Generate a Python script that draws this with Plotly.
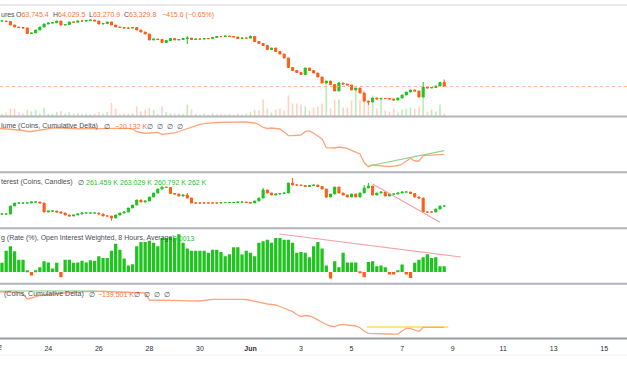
import pandas as pd
import plotly.graph_objects as go

# ---------------- data ----------------
start = pd.Timestamp("2024-05-22 00:00")
times = pd.date_range(start, periods=107, freq="4h")

price_close = [69880, 69880, 69830, 69480, 69280, 69230, 69180, 68630, 68680, 68980,
               69280, 69580, 69680, 69700, 69880, 69480, 69530, 69780, 69760, 69880,
               69870, 69930, 69980, 69880, 69580, 69630, 69780, 69480, 69280, 69230,
               69180, 69170, 69230, 68980, 68780, 68580, 67980, 68080, 68030, 67730,
               67930, 68130, 67980, 68030, 68130, 68180, 68030, 68080, 68070, 68130,
               68120, 68230, 68330, 68320, 68380, 68330, 68280, 68130, 68180, 68170,
               68330, 67830, 67630, 67430, 67030, 67180, 66830, 66580, 66180, 65230,
               64930, 64730, 64530, 65180, 64930, 64680, 64280, 63680, 63880, 63530,
               62880, 63680, 63580, 63480, 62980, 63180, 62680, 61880, 61780, 62180,
               62080, 62130, 62120, 62080, 61980, 62180, 62480, 62780, 62980, 62880,
               62280, 63280, 63180, 63230, 63380, 63745.4, 63329.8]
price_wick_hi = {45: 68380, 101: 63780, 106: 64029.5, 60: 68430, 81: 63780}
price_wick_lo = {45: 67580, 88: 61480, 106: 63270.9, 87: 61780, 8: 68580}

volume = [3, 2.7, 4, 7.7, 7.7, 4, 3, 6.7, 5, 6.7,
          3, 8.7, 2.7, 2.7, 4.3, 5.3, 2.7, 4.3, 3.3, 3.3,
          2.7, 2.7, 2, 2.7, 4.3, 2.7, 4.3, 13.7, 7.7, 2.7,
          3.3, 2.7, 3.3, 10, 5.3, 6.7, 8.7, 6.7, 2.7, 10,
          4.3, 3.3, 3.3, 2.7, 2.7, 12, 7.3, 2.7, 2, 3.3,
          2, 3.3, 2, 2.7, 2, 2.7, 2, 3.3, 2, 3.3,
          4.3, 6.7, 6, 17, 8, 4, 7, 8, 6, 21,
          13, 13, 12, 10, 6, 9, 10, 13, 34, 8,
          17, 17, 9, 9, 16, 28, 17, 26, 14, 21,
          8, 19, 6, 5, 8, 4, 7, 8, 9, 8,
          10, 19, 5, 7, 5, 12, 3]

cvd_perp = [-8.3, -8.5, -8.8, -9.0, -9.5, -10.0, -10.5, -11.5, -11.5, -10.7,
            -10.0, -9.3, -8.5, -8.2, -7.8, -7.8, -8.0, -8.3, -8.5, -8.8,
            -9.0, -8.5, -8.3, -8.6, -9.0, -8.7, -8.4, -8.3, -8.3, -8.3,
            -8.3, -8.3, -9.0, -11.7, -12.5, -13.3, -13.0, -12.5, -12.3, -14.3,
            -14.0, -13.5, -12.8, -11.5, -10.0, -8.5, -7.0, -5.5, -4.3, -3.7,
            -3.0, -2.8, -2.5, -2.3, -2.3, -2.3, -2.0, -1.8, -1.8, -2.0,
            -2.3, -3.0, -4.5, -7.5, -8.5, -8.0, -8.5, -9.0, -12.0, -15.7,
            -15.7, -15.7, -15.0, -11.5, -11.0, -13.3, -16.0, -19.0, -27.7, -28.2,
            -28.0, -27.0, -27.3, -28.3, -30.3, -32.3, -34.0, -42.5, -46.7, -45.0,
            -45.5, -46.2, -46.5, -46.7, -46.2, -45.5, -44.0, -41.0, -38.3, -41.0,
            -41.0, -35.7, -35.5, -35.3, -35.0, -34.7, -34.3]

oi_close = [254, 254, 254, 262, 265, 265, 265, 265, 266, 266,
            265, 256, 257, 257, 256, 255, 253, 252, 253, 254,
            255, 255, 255, 255, 254, 252, 252, 250, 253, 255,
            256, 260, 263, 268, 266, 267, 271, 275, 279, 281,
            280.5, 274.5, 274, 272, 273, 270, 265, 265, 265, 265,
            265, 265, 265, 265.5, 265.5, 265.5, 265.5, 266, 266, 265.5,
            265, 267, 270, 278, 275, 273, 274, 274.5, 275, 285,
            283, 283, 282.5, 281.5, 282.5, 283, 281.5, 279, 271, 274,
            281, 275, 273, 271, 274, 271, 275, 280, 282, 273,
            275, 276, 272, 274, 274, 275, 276, 276, 274.5, 271,
            270, 256, 256, 256, 259, 262, 262]
oi_wick_hi = {45: 275, 70: 290, 87: 283, 88: 285, 63: 280}
oi_wick_lo = {27: 247.3, 78: 270}

funding = [0.0021, 0.0021, 0.0049, 0.0059, 0.0048, 0.0028, 0.0028, 0.0002, -0.0008, 0.0003,
           0.0011, 0.0025, 0.0022, 0.0008, 0.0021, -0.0012, 0.0028, 0.0028, 0.0021, 0.0022,
           0.0026, 0.0022, 0.0027, 0.0026, 0.0036, 0.0032, 0.0032, 0.0049, 0.0065, 0.0051,
           0.0031, 0.0015, 0.0018, 0.0059, 0.0069, 0.0069, 0.0072, 0.0067, 0.0059, 0.0078,
           0.0078, 0.0080, 0.0078, 0.0087, 0.0067, 0.0054, 0.0049, 0.0049, 0.0049, 0.0049,
           0.0044, 0.0051, 0.0051, 0.0046, 0.0036, 0.0041, 0.0057, 0.0057, 0.0040, 0.0049,
           0.0044, 0.0036, 0.0067, 0.0071, 0.0074, 0.0067, 0.0078, 0.0078, 0.0074, 0.0074,
           0.0067, 0.0044, 0.0046, 0.0044, 0.0034, 0.0059, 0.0069, 0.0054, 0.0015, -0.0015,
           0.0025, 0.0011, 0.0044, 0.0022, 0.0022, 0.0022, -0.0002, -0.0012, 0.0023, 0.0025,
           0.0013, 0.0015, 0.0011, -0.0006, -0.0006, 0.0003, 0.0017, -0.0006, -0.0014, 0.0021,
           0.0028, 0.0034, 0.0041, 0.0032, 0.0034, 0.0013, 0.0013]

cvd_spot = [-131.7, -131.8, -132.0, -132.2, -132.3, -132.3, -134.0, -139.0, -138.0, -136.5,
            -135.5, -135.0, -134.5, -134.0, -133.5, -133.0, -132.5, -132.2, -132.0, -131.8,
            -131.6, -131.4, -131.2, -131.0, -131.0, -131.2, -131.4, -131.5, -131.6, -131.7,
            -131.8, -131.9, -132.0, -132.1, -132.2, -133.0, -140.0, -140.0, -140.0, -140.2,
            -140.0, -140.0, -140.2, -140.5, -140.6, -140.8, -141.0, -141.0, -141.0, -140.5,
            -139.8, -139.3, -139.3, -139.2, -139.2, -139.2, -139.3, -139.3, -139.4, -139.5,
            -140.5, -141.5, -142.3, -143.2, -144.0, -144.5, -145.0, -146.5, -148.0, -149.5,
            -151.7, -154.5, -156.7, -155.5, -156.0, -157.7, -160.0, -162.5, -164.5, -166.0,
            -166.7, -165.0, -164.3, -165.0, -165.5, -166.0, -167.7, -171.0, -173.3, -173.3,
            -173.3, -173.5, -173.8, -174.0, -174.2, -174.0, -171.0, -168.3, -168.3, -170.0,
            -171.5, -167.3, -167.3, -167.3, -167.2, -167.2, -167.3]

trend_cvd_x = ["2024-06-05 16:00", "2024-06-08 16:00"]
trend_cvd_y = [-46.0, -30.7]
trend_oi_x = ["2024-06-05 20:00", "2024-06-08 12:00"]
trend_oi_y = [284.0, 245.7]
trend_fund_x = ["2024-06-02 03:24", "2024-06-09 07:58"]
trend_fund_y = [0.00874, 0.00345]
trend_spot_y_x = ["2024-06-05 14:24", "2024-06-08 19:55"]
trend_spot_y_y = [-167.0, -167.0]
trend_spot_g_x = ["2024-05-21 20:00", "2024-05-25 22:16"]
trend_spot_g_y = [-131.0, -131.0]

tick_dates = ["2024-05-22", "2024-05-24", "2024-05-26", "2024-05-28", "2024-05-30",
              "2024-06-01", "2024-06-03", "2024-06-05", "2024-06-07", "2024-06-09",
              "2024-06-11", "2024-06-13", "2024-06-15"]
tick_text = ["22", "24", "26", "28", "30", "<b>Jun</b>", "3", "5", "7", "9", "11", "13", "15"]

oi_legend_vals = ["261.459 K", "263.029 K", "260.792 K", "262 K"]
cvd_perp_legend = "\u221220.132 K"
cvd_spot_legend = "\u2212139.501 K"

for arr in (price_close, volume, cvd_perp, oi_close, funding, cvd_spot):
    assert len(arr) == len(times), len(arr)

# ---------------- derived OHLC ----------------
def ohlc(closes, hi_extra, lo_extra):
    opens = [closes[0]] + closes[:-1]
    highs, lows = [], []
    for i, (o, c) in enumerate(zip(opens, closes)):
        highs.append(max(o, c, hi_extra.get(i, max(o, c))))
        lows.append(min(o, c, lo_extra.get(i, min(o, c))))
    return opens, highs, lows

p_open, p_high, p_low = ohlc(price_close, price_wick_hi, price_wick_lo)
p_open[-1] = 63745.4
oi_open, oi_high, oi_low = ohlc(oi_close, oi_wick_hi, oi_wick_lo)

# ---------------- styling ----------------
W, H = 627, 376
G = "#1fc41f"
O = "#ff5c17"
G_VOL = "rgba(60,200,60,0.35)"
O_VOL = "rgba(255,110,50,0.30)"
LINE_O = "#ffa47c"
FONT = "Liberation Sans"
FOUR_H = 4 * 3600 * 1000
X0, X1 = pd.Timestamp("2024-05-22 02:08"), pd.Timestamp("2024-06-15 21:36")

def py(px):
    return 1 - px / H

def px_of_date(d):
    return (pd.Timestamp(d) - X0) / (X1 - X0) * W

fig = go.Figure()

vol_colors = [G_VOL if c >= o else O_VOL for o, c in zip(p_open, price_close)]
fig.add_trace(go.Bar(x=times, y=volume, marker=dict(color=vol_colors, line=dict(width=0)),
                     width=0.38 * FOUR_H, xaxis="x", yaxis="y6", hoverinfo="skip"))

fig.add_trace(go.Candlestick(x=times, open=p_open, high=p_high, low=p_low, close=price_close,
                             increasing=dict(line=dict(color=G, width=1), fillcolor=G),
                             decreasing=dict(line=dict(color=O, width=1), fillcolor=O),
                             whiskerwidth=0, xaxis="x", yaxis="y", hoverinfo="skip"))

fig.add_trace(go.Scatter(x=times, y=cvd_perp, mode="lines", line=dict(color=LINE_O, width=1.3),
                         xaxis="x", yaxis="y2", hoverinfo="skip"))
fig.add_trace(go.Scatter(x=trend_cvd_x, y=trend_cvd_y, mode="lines",
                         line=dict(color="#8fd18f", width=1.2), xaxis="x", yaxis="y2"))

fig.add_trace(go.Candlestick(x=times, open=oi_open, high=oi_high, low=oi_low, close=oi_close,
                             increasing=dict(line=dict(color=G, width=1), fillcolor=G),
                             decreasing=dict(line=dict(color=O, width=1), fillcolor=O),
                             whiskerwidth=0, xaxis="x", yaxis="y3", hoverinfo="skip"))
fig.add_trace(go.Scatter(x=trend_oi_x, y=trend_oi_y, mode="lines",
                         line=dict(color="#f7a0a8", width=1.2), xaxis="x", yaxis="y3"))

fund_colors = [G if v >= 0 else O for v in funding]
fig.add_trace(go.Bar(x=times, y=funding, marker=dict(color=fund_colors, line=dict(width=0)),
                     width=0.78 * FOUR_H, xaxis="x", yaxis="y4", hoverinfo="skip"))
fig.add_trace(go.Scatter(x=trend_fund_x, y=trend_fund_y, mode="lines",
                         line=dict(color="#f7a0a8", width=1.2), xaxis="x", yaxis="y4"))

fig.add_trace(go.Scatter(x=trend_spot_g_x, y=trend_spot_g_y, mode="lines",
                         line=dict(color="#7fcf7f", width=1.2), xaxis="x", yaxis="y5"))
fig.add_trace(go.Scatter(x=trend_spot_y_x, y=trend_spot_y_y, mode="lines",
                         line=dict(color="#ffe48a", width=2), xaxis="x", yaxis="y5"))
fig.add_trace(go.Scatter(x=times, y=cvd_spot, mode="lines", line=dict(color=LINE_O, width=1.3),
                         xaxis="x", yaxis="y5", hoverinfo="skip"))

def yax(d0, d1, rng, **kw):
    return dict(domain=[py(d1), py(d0)], range=rng, visible=False, fixedrange=True, **kw)

fig.update_layout(
    width=W, height=H, margin=dict(l=0, r=0, t=0, b=0),
    paper_bgcolor="white", plot_bgcolor="white", showlegend=False, barmode="overlay",
    font=dict(family=FONT, size=7, color="#333"),
    xaxis=dict(domain=[0, 1], range=[X0, X1], anchor="y5",
               rangeslider=dict(visible=False), showgrid=False, zeroline=False, showline=False,
               tickmode="array", tickvals=tick_dates, ticktext=tick_text,
               ticks="outside", ticklen=3, tickcolor="rgba(0,0,0,0)",
               tickfont=dict(family=FONT, size=7, color="#2a2e39")),
    yaxis=yax(5, 116.5, [60330, 71480]),
    yaxis6=dict(overlaying="y", range=[0, 111.5], visible=False),
    yaxis2=yax(116.5, 172.3, [-52.3, 3.5]),
    yaxis3=yax(172.3, 228.3, [239.7, 295.7]),
    yaxis4=yax(228.3, 283.8, [-0.002714, 0.010051]),
    yaxis5=yax(283.8, 338.5, [-178.5, -123.8]),
)

shapes = []
for ypx, col, wd in [(5, "#e9eaee", 2), (116.5, "#b4b6bd", 2), (172.3, "#b4b6bd", 2),
                     (228.3, "#b4b6bd", 2), (283.8, "#b4b6bd", 2), (338.5, "#9a9da5", 2),
                     (355, "#f2f3f5", 1)]:
    shapes.append(dict(type="line", xref="paper", yref="paper", x0=0, x1=1, y0=py(ypx), y1=py(ypx),
                       line=dict(color=col, width=wd)))
shapes.append(dict(type="line", xref="paper", yref="y", x0=0, x1=1,
                   y0=price_close[-1], y1=price_close[-1],
                   line=dict(color="#ffb896", width=1, dash="dot")))
fig.update_layout(shapes=shapes)

# partially visible first tick label ("22" sits just left of the plot edge)
fig.add_annotation(x=px_of_date(tick_dates[0]) / W, y=py(347.8), xref="paper", yref="paper",
                   text=tick_text[0], showarrow=False, xanchor="center", yanchor="middle",
                   font=dict(family=FONT, size=7, color="#2a2e39"))

GRAY = "#4a4d57"
OR = "#f7773a"
GR = "#29c029"
chg = p_open[-1] - price_close[-1]
legend_items = [
    (-0.5, 14.7, "ures", GRAY),
    (14.5, 14.7, "O" + f"<span style='color:{OR}'>{p_open[-1]:,.1f}</span>", GRAY),
    (52.2, 14.7, "H" + f"<span style='color:{OR}'>{p_high[-1]:,.1f}</span>", GRAY),
    (87.8, 14.7, "L" + f"<span style='color:{OR}'>{p_low[-1]:,.1f}</span>", GRAY),
    (122.8, 14.7, "C" + f"<span style='color:{OR}'>{price_close[-1]:,.1f}</span>", GRAY),
    (161, 14.7, f"\u2212{chg:.1f} (\u2212{chg / p_open[-1] * 100:.2f}%)", OR),
    (0, 126, "lume (Coins, Cumulative Delta)", GRAY),
    (103.3, 126, "\u2205", GRAY),
    (114, 126, cvd_perp_legend, OR),
    (145.7, 126, "\u2205  \u2205  \u2205  \u2205", GRAY),
    (0, 182, "terest (Coins, Candles)", GRAY),
    (77, 182, "\u2205", GRAY),
    (85, 182, oi_legend_vals[0], GR),
    (119.3, 182, oi_legend_vals[1], GR),
    (153.3, 182, oi_legend_vals[2], GR),
    (187.3, 182, oi_legend_vals[3], GR),
    (0, 238, "g (Rate (%), Open Interest Weighted, 8 Hours, Average)", GRAY),
    (171.7, 238, f"{funding[-1]:.4f}", GR),
    (2.7, 294, "(Coins, Cumulative Delta)", GRAY),
    (88.3, 294, "\u2205", GRAY),
    (96.7, 294, cvd_spot_legend, OR),
    (133.3, 294, "\u2205  \u2205  \u2205  \u2205", GRAY),
]
for xpx, ypx, txt, col in legend_items:
    fig.add_annotation(x=xpx / W, y=py(ypx), xref="paper", yref="paper", text=txt,
                       showarrow=False, xanchor="left", yanchor="middle", borderpad=0,
                       font=dict(family=FONT, size=7, color=col))

fig.write_html("out.html")
